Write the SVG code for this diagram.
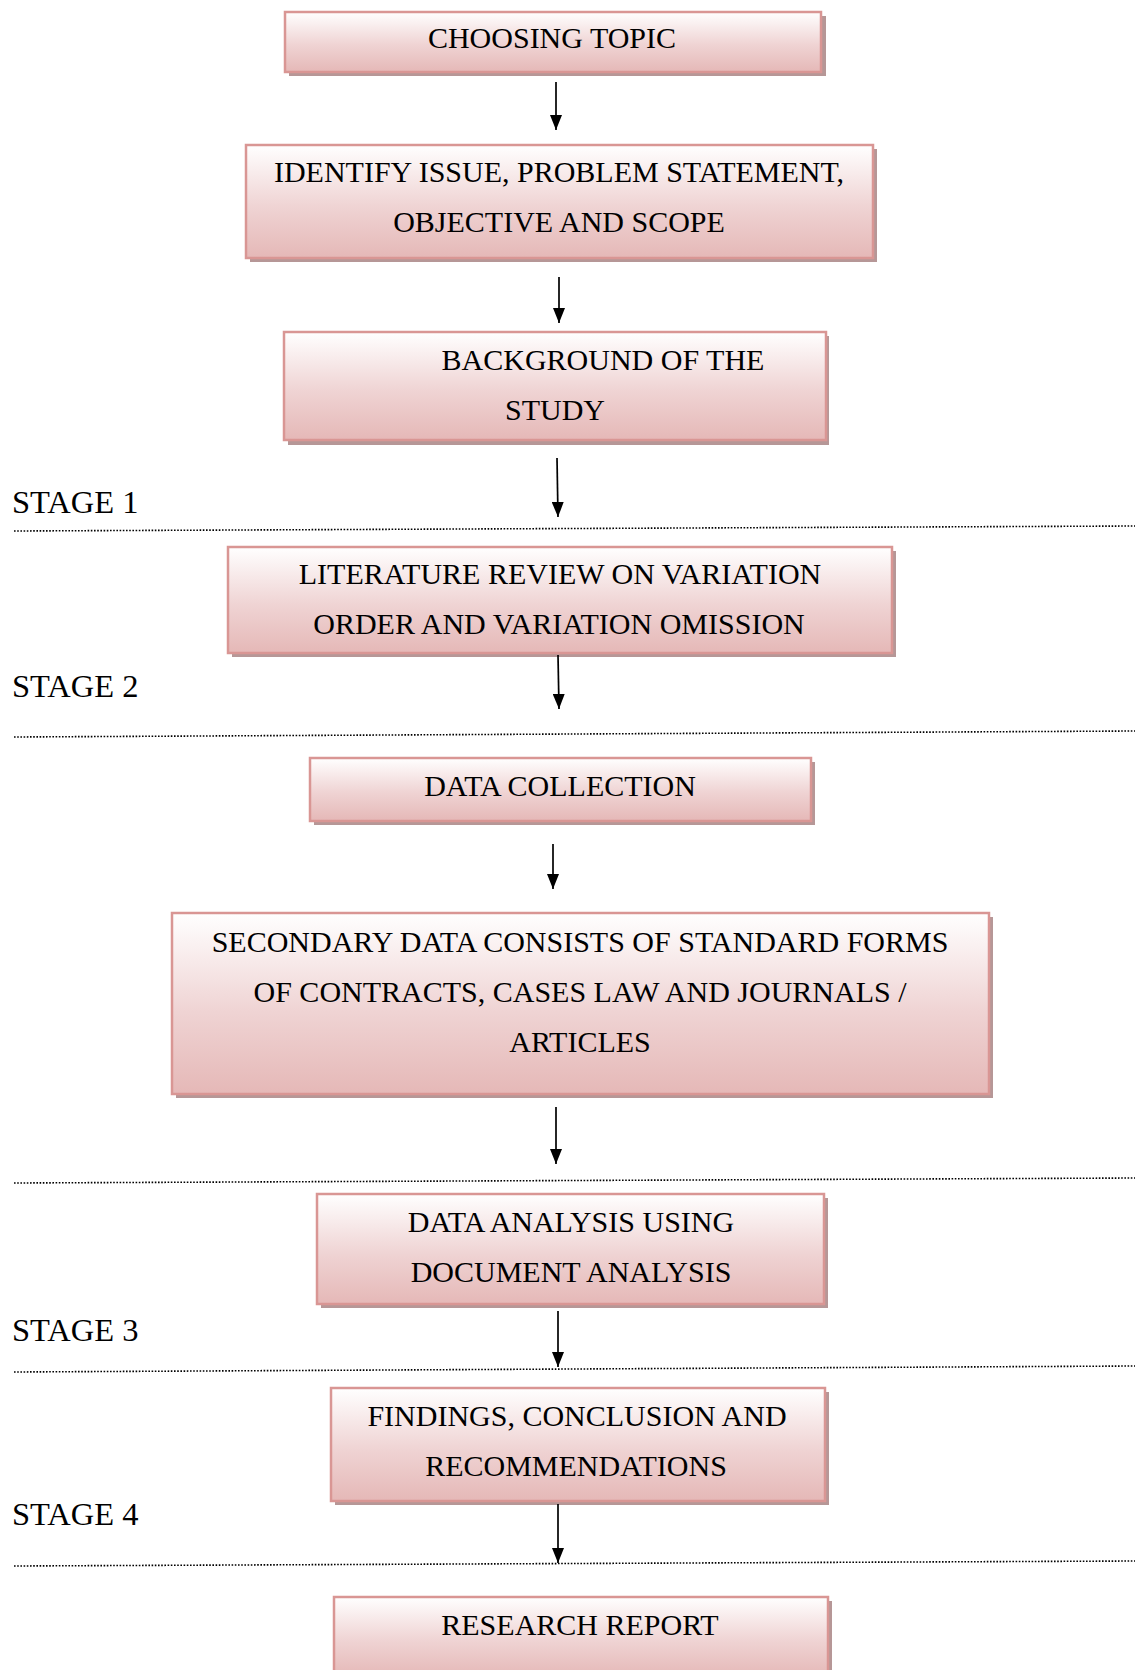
<svg xmlns="http://www.w3.org/2000/svg" width="1135" height="1670" viewBox="0 0 1135 1670">
<defs>
<linearGradient id="g" x1="0" y1="0" x2="0" y2="1">
<stop offset="0" stop-color="#ffffff"/>
<stop offset="0.55" stop-color="#efd3d3"/>
<stop offset="1" stop-color="#e5b8b7"/>
</linearGradient>
<marker id="ah" viewBox="0 0 15 12" refX="15" refY="6" markerWidth="15" markerHeight="12" markerUnits="userSpaceOnUse" orient="auto">
<path d="M0,0 L15,6 L0,12 Z" fill="#000"/>
</marker>
<style>
.sh{fill:#b69797}
.bx{fill:url(#g);stroke:#d99694;stroke-width:2.5}
.t{font-family:"Liberation Serif","Times New Roman",serif;font-size:30px;fill:#000;text-anchor:middle}
.st{font-family:"Liberation Serif","Times New Roman",serif;font-size:32.5px;fill:#000}
.ar{stroke:#000;stroke-width:1.7;fill:none}
.dl{stroke:#000;stroke-width:1.6;stroke-dasharray:1.6 1.6;fill:none}
</style>
</defs>
<rect width="1135" height="1670" fill="#fff"/>
<g id="stages">
<text class="st" x="12" y="513">STAGE 1</text>
<text class="st" x="12" y="697">STAGE 2</text>
<text class="st" x="12" y="1341">STAGE 3</text>
<text class="st" x="12" y="1525">STAGE 4</text>
</g>
<g id="dividers">
<path class="dl" d="M14,531 L1135,526"/>
<path class="dl" d="M14,737 L1135,731"/>
<path class="dl" d="M14,1183 L1135,1178"/>
<path class="dl" d="M14,1372 L1135,1366"/>
<path class="dl" d="M14,1566 L1135,1561"/>
</g>
<g id="n1">
<rect class="sh" x="289" y="16" width="537" height="60"/>
<rect class="bx" x="285" y="12" width="536" height="60"/>
<text class="t" x="552" y="48">CHOOSING TOPIC</text>
</g>
<g id="n2">
<rect class="sh" x="250" y="149" width="627" height="113"/>
<rect class="bx" x="246" y="145" width="627" height="113"/>
<text class="t" x="559" y="182">IDENTIFY ISSUE, PROBLEM STATEMENT,</text>
<text class="t" x="559" y="232">OBJECTIVE AND SCOPE</text>
</g>
<g id="n3">
<rect class="sh" x="288" y="336" width="541" height="109"/>
<rect class="bx" x="284" y="332" width="542" height="108"/>
<text class="t" x="603" y="370">BACKGROUND OF THE</text>
<text class="t" x="555" y="420">STUDY</text>
</g>
<g id="n4">
<rect class="sh" x="232" y="551" width="664" height="106"/>
<rect class="bx" x="228" y="547" width="664" height="106"/>
<text class="t" x="560" y="584">LITERATURE REVIEW ON VARIATION</text>
<text class="t" x="559" y="634">ORDER AND VARIATION OMISSION</text>
</g>
<g id="n5">
<rect class="sh" x="314" y="762" width="501" height="63"/>
<rect class="bx" x="310" y="758" width="501" height="63"/>
<text class="t" x="560" y="796">DATA COLLECTION</text>
</g>
<g id="n6">
<rect class="sh" x="176" y="917" width="817" height="181"/>
<rect class="bx" x="172" y="913" width="817" height="181"/>
<text class="t" x="580" y="952">SECONDARY DATA CONSISTS OF STANDARD FORMS</text>
<text class="t" x="580" y="1002">OF CONTRACTS, CASES LAW AND JOURNALS /</text>
<text class="t" x="580" y="1052">ARTICLES</text>
</g>
<g id="n7">
<rect class="sh" x="321" y="1198" width="507" height="110"/>
<rect class="bx" x="317" y="1194" width="507" height="110"/>
<text class="t" x="571" y="1232">DATA ANALYSIS USING</text>
<text class="t" x="571" y="1282">DOCUMENT ANALYSIS</text>
</g>
<g id="n8">
<rect class="sh" x="335" y="1392" width="494" height="113"/>
<rect class="bx" x="331" y="1388" width="494" height="113"/>
<text class="t" x="577" y="1426">FINDINGS, CONCLUSION AND</text>
<text class="t" x="576" y="1476">RECOMMENDATIONS</text>
</g>
<g id="n9">
<rect class="sh" x="338" y="1601" width="494" height="80"/>
<rect class="bx" x="334" y="1597" width="494" height="80"/>
<text class="t" x="580" y="1635">RESEARCH REPORT</text>
</g>
<g id="connectors">
<path class="ar" d="M556,82 L556,130" marker-end="url(#ah)"/>
<path class="ar" d="M559,277 L559,323" marker-end="url(#ah)"/>
<path class="ar" d="M557,458 L558,517" marker-end="url(#ah)"/>
<path class="ar" d="M558,655 L559,709" marker-end="url(#ah)"/>
<path class="ar" d="M553,844 L553,889" marker-end="url(#ah)"/>
<path class="ar" d="M556,1107 L556,1164" marker-end="url(#ah)"/>
<path class="ar" d="M558,1311 L558,1367" marker-end="url(#ah)"/>
<path class="ar" d="M558,1504 L558,1563" marker-end="url(#ah)"/>
</g>
</svg>
